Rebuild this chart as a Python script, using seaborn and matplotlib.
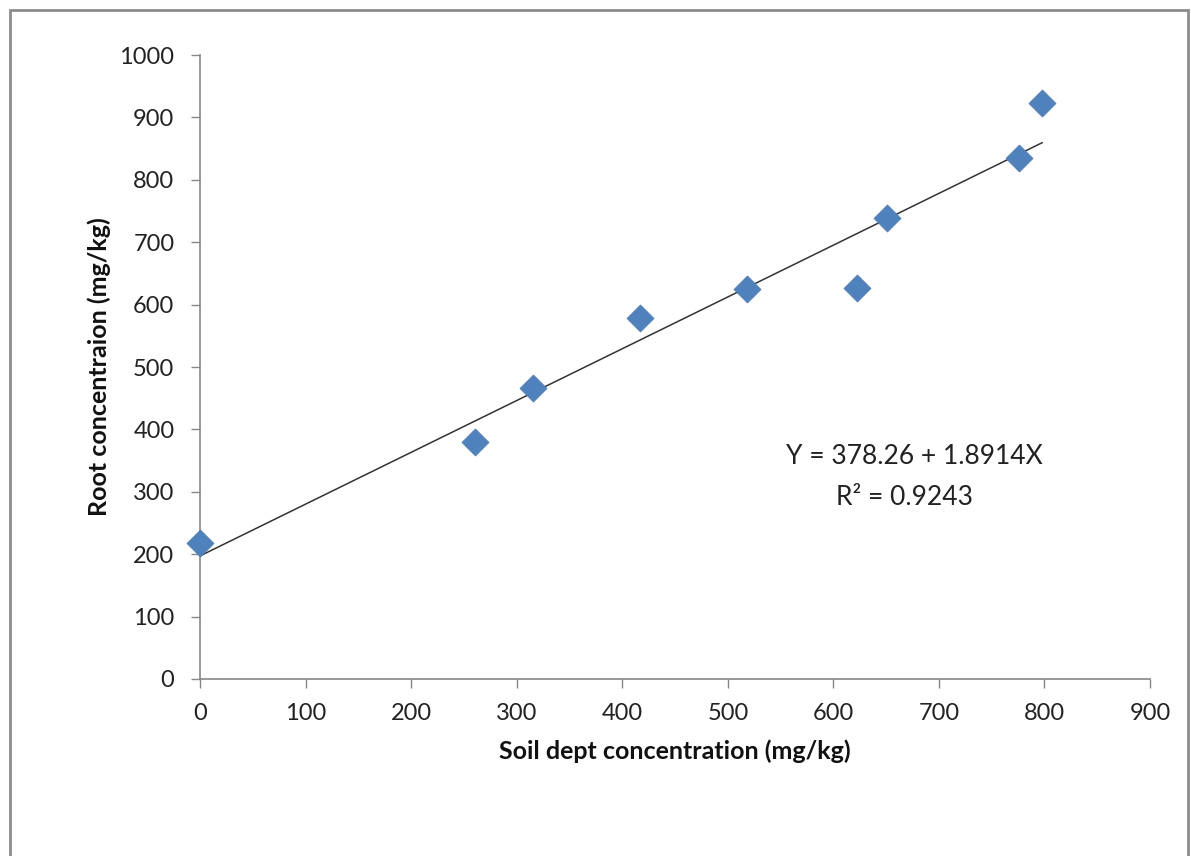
import pandas as pd
import seaborn as sns
import matplotlib.pyplot as plt
from matplotlib.patches import Rectangle

soil = [0, 260, 315, 417, 518, 622, 651, 776, 798]
root = [218, 380, 466, 579, 625, 627, 739, 835, 923]
x_ticks = [0, 100, 200, 300, 400, 500, 600, 700, 800, 900]
y_ticks = [0, 100, 200, 300, 400, 500, 600, 700, 800, 900, 1000]

df = pd.DataFrame({"soil": soil, "root": root})

sns.set_style("white")
plt.rcParams['font.family'] = ['Lato', 'DejaVu Sans']

fig = plt.figure(figsize=(11.91, 8.56), dpi=100)
ax = fig.add_axes([0.168, 0.2068, 0.7976, 0.7289])

sns.regplot(data=df, x="soil", y="root", ci=None, ax=ax,
            marker="D",
            scatter_kws={"color": "#4F81BD", "s": 190, "edgecolor": "#4A7AB5",
                         "linewidths": 0.5, "alpha": 1, "zorder": 3,
                         "clip_on": False},
            line_kws={"color": "#333333", "linewidth": 1.1, "zorder": 2})

ax.set_xlim(0, 900)
ax.set_ylim(0, 1000)
ax.set_xticks(x_ticks)
ax.set_yticks(y_ticks)
ax.tick_params(axis="both", labelsize=17, colors="#868686", labelcolor="#222222",
               length=6.5, width=1, direction="out", left=True, bottom=True)
ax.tick_params(axis="x", pad=11)
ax.tick_params(axis="y", pad=12)
for s in ["top", "right"]:
    ax.spines[s].set_visible(False)
for s in ["left", "bottom"]:
    ax.spines[s].set_color("#868686")
    ax.spines[s].set_linewidth(1.2)

ax.set_xlabel("Soil dept concentration (mg/kg)", fontsize=18, fontweight="bold",
              color="#111111", labelpad=11)
ax.set_ylabel("Root concentraion (mg/kg)", fontsize=18, fontweight="bold",
              color="#111111", labelpad=6)

ax.text(677, 356, "Y = 378.26 + 1.8914X", fontsize=19, ha="center", va="center",
        color="#222222")
ax.text(667, 291, "R² = 0.9243", fontsize=19, ha="center", va="center",
        color="#222222")

# outer chart border
fig.patches.append(Rectangle((10 / 1191, -0.05), 1178 / 1191, 1.05 - 10 / 856,
                             transform=fig.transFigure, fill=False,
                             edgecolor="#8C8C8C", linewidth=2))

plt.savefig("out.png", dpi=100)
